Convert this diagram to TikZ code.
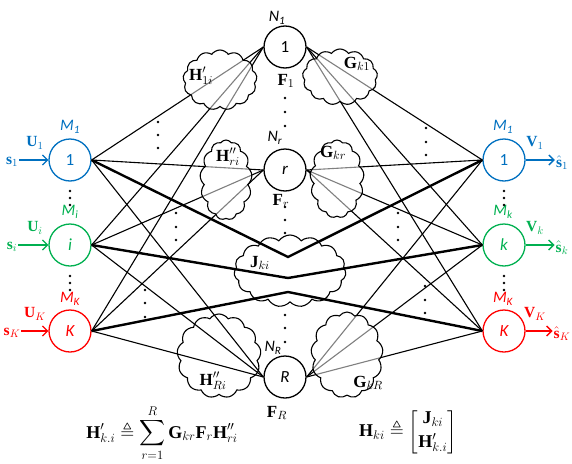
\RequirePackage{fix-cm}
\documentclass[tikz,border=0pt]{standalone}
\usepackage{amsmath,amssymb}
\usepackage{fontspec}
\setmainfont{Liberation Serif}
\newfontfamily\carl{Carlito}
\usetikzlibrary{shapes.symbols,arrows.meta}
\definecolor{cb}{RGB}{0,112,192}
\definecolor{cg}{RGB}{0,176,80}
\definecolor{cr}{RGB}{255,0,0}
\newcommand\bld[1]{\mbox{\bfseries #1}}
\tikzset{
  nd/.style={circle,draw,minimum size=42,inner sep=0pt,line width=1.3pt,font=\carl\fontsize{17}{17}\selectfont},
  thinl/.style={line width=1.1pt,black},
  thickl/.style={line width=2.4pt,black},
  grayl/.style={line width=1.1pt,gray},
  cloudy/.style={cloud,cloud puffs=13,cloud puff arc=110,cloud ignores aspect,draw,fill=white,line width=1.1pt,inner sep=0pt},
  slab/.style={font=\carl\itshape\fontsize{16}{16}\selectfont,inner sep=1pt},
  blab/.style={font=\fontsize{15.5}{15.5}\selectfont,inner sep=1pt},
  clab/.style={font=\fontsize{17}{17}\selectfont,inner sep=1pt},
  arr/.style={line width=1.3pt,-{Straight Barb[length=5pt,width=10pt]}},
  dotf/.style={fill=black}
}
\begin{document}
\begin{tikzpicture}[x=1pt,y=-1pt]
\useasboundingbox (0,0) rectangle (572,463);
% source, relay, destination nodes
\node[nd,cb] (L1) at (70,160) {1};
\node[nd,cg] (Li) at (70,245) {\itshape i};
\node[nd,cr] (LK) at (70,331) {\itshape K};
\node[nd] (N1) at (285,47) {1};
\node[nd] (Nr) at (285,170) {\itshape r};
\node[nd] (NR) at (285,377) {\itshape R};
\node[nd,cb] (R1) at (504,160) {1};
\node[nd,cg] (Rk) at (504,245) {\itshape k};
\node[nd,cr] (RK) at (504,331) {\itshape K};
% thin links
\foreach \a in {L1,Li,LK}{\foreach \b in {N1,Nr,NR}{\draw[thinl] (\a.east) -- (\b.west);}}
\foreach \a in {N1,Nr,NR}{\foreach \b in {R1,Rk,RK}{\draw[thinl] (\a.east) -- (\b.west);}}
% clouds
\node[cloudy,minimum width=74,minimum height=60,path picture={\foreach \a in {L1,Li,LK}{\draw[grayl] (\a.east) -- (N1.west);}}] (C1) at (220,80) {};
\node[cloudy,minimum width=75,minimum height=56,path picture={\foreach \b in {R1,Rk,RK}{\draw[grayl] (N1.east) -- (\b.west);}}] (C2) at (340,77) {};
\node[cloudy,minimum width=52,minimum height=80,path picture={\foreach \a in {L1,Li,LK}{\draw[grayl] (\a.east) -- (Nr.west);}}] (C3) at (226,180) {};
\node[cloudy,minimum width=54,minimum height=78,path picture={\foreach \b in {R1,Rk,RK}{\draw[grayl] (Nr.east) -- (\b.west);}}] (C4) at (337,179) {};
\node[cloudy,minimum width=84,minimum height=84,path picture={\foreach \a in {L1,Li,LK}{\draw[thinl] (\a.east) -- (NR.west);}}] (C5) at (219,356) {};
\node[cloudy,minimum width=72,minimum height=86,path picture={\foreach \b in {R1,Rk,RK}{\draw[grayl] (NR.east) -- (\b.west);}}] (C6) at (347,355) {};
\node[cloudy,cloud puffs=15,minimum width=112,minimum height=72] (J) at (290,271) {};
% thick direct links through J
\coordinate (j1) at (288,257);
\coordinate (j2) at (288,278);
\coordinate (j3) at (288,292);
\draw[thickl] (L1.east) -- (j1) -- (R1.west);
\draw[thickl] (Li.east) -- (j2) -- (Rk.west);
\draw[thickl] (LK.east) -- (j3) -- (RK.west);
% cloud labels
\node[clab] (lC1) at (201,76) {$\bld{H}'_{1i}$};
\node[clab] (lC2) at (357,64) {$\bld{G}_{k1}$};
\node[clab] (lC3) at (228,157) {$\bld{H}''_{ri}$};
\node[clab] (lC4) at (333,153) {$\bld{G}_{kr}$};
\node[clab] (lC5) at (213,381) {$\bld{H}''_{Ri}$};
\node[clab] (lC6) at (368,383) {$\bld{G}_{kR}$};
\node[clab] (lJ) at (260,263) {$\bld{J}_{ki}$};
% relay labels
\node[slab] (n1) at (277,18) {N\textsubscript{1}};
\node[slab] (nr) at (275,138) {N\textsubscript{r}};
\node[slab] (nR) at (273,348) {N\textsubscript{R}};
\node[clab] (f1) at (286,81) {$\bld{F}_1$};
\node[clab] (fr) at (281,201) {$\bld{F}_r$};
\node[clab] (fR) at (277,413) {$\bld{F}_R$};
% antenna labels
\node[slab,cb] (m1) at (70,127) {M\textsubscript{1}};
\node[slab,cg] (mi) at (70,212) {M\textsubscript{i}};
\node[slab,cr] (mK) at (70,299) {M\textsubscript{K}};
\node[slab,cb] (m1r) at (503,127) {M\textsubscript{1}};
\node[slab,cg] (mkr) at (503,212) {M\textsubscript{k}};
\node[slab,cr] (mKr) at (503,299) {M\textsubscript{K}};
% inputs
\node[blab,cb] (s1) at (12,162) {$\bld{s}_1$};
\node[blab,cg] (si) at (12,247) {$\bld{s}_i$};
\node[blab,cr] (sK) at (12,333) {$\bld{s}_K$};
\draw[arr,cb] (s1.east |- L1) -- (L1.west);
\draw[arr,cg] (si.east |- Li) -- (Li.west);
\draw[arr,cr] (sK.east |- LK) -- (LK.west);
\node[blab,cb] (u1) at (35,143) {$\bld{U}_1$};
\node[blab,cg] (ui) at (35,228) {$\bld{U}_i$};
\node[blab,cr] (uK) at (35,314) {$\bld{U}_K$};
% outputs
\node[blab,cb] (o1) at (562,163) {$\hat{\bld{s}}_1$};
\node[blab,cg] (ok) at (562,248) {$\hat{\bld{s}}_k$};
\node[blab,cr] (oK) at (562,334) {$\hat{\bld{s}}_K$};
\draw[arr,cb] (R1.east) -- (R1.east -| o1.west);
\draw[arr,cg] (Rk.east) -- (Rk.east -| ok.west);
\draw[arr,cr] (RK.east) -- (RK.east -| oK.west);
\node[blab,cb] (v1) at (535,143) {$\bld{V}_1$};
\node[blab,cg] (vk) at (535,228) {$\bld{V}_k$};
\node[blab,cr] (vK) at (535,314) {$\bld{V}_K$};
% dots
\foreach \x/\y in {70/191,70/198,70/205,70/276,70/283,70/290,
  504/191,504/198,504/205,504/276,504/283,504/290,
  285/98,285/112,285/126,285/207,285/220,285/233,285/315,285/328,285/342,
  158/122,158/135,158/148,176/213,176/227,176/240,145/290,145/303,145/317,
  426/128,426/142,426/155,398/213,398/227,398/240,425/286,425/300,425/313}
  {\fill[dotf] (\x,\y) circle (1.4);}
% formulas
\node[font=\fontsize{18}{18}\selectfont] (eq1) at (162,433) {$\displaystyle \bld{H}'_{k.i}\triangleq\sum_{r=1}^{R}\bld{G}_{kr}\bld{F}_r\bld{H}''_{ri}$};
\node[font=\fontsize{18}{18}\selectfont] (eq2) at (408,432) {$\bld{H}_{ki}\triangleq\begin{bmatrix}\bld{J}_{ki}\\[4pt] \bld{H}'_{k.i}\end{bmatrix}$};
\end{tikzpicture}
\end{document}
